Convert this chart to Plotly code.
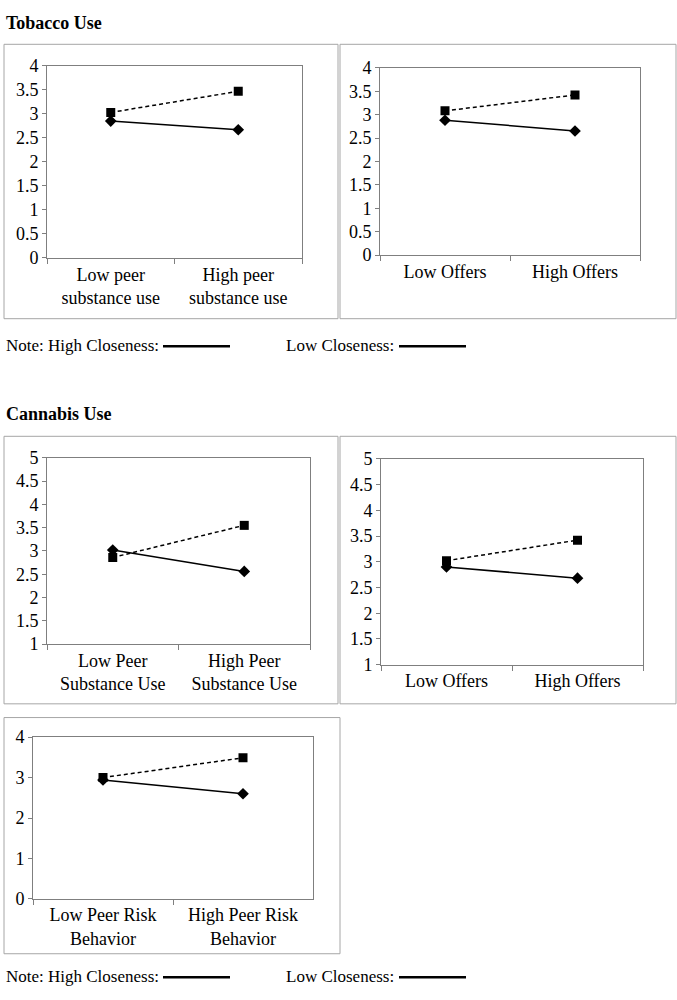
import plotly.graph_objects as go

W, H = 677, 1000
FONT = "Liberation Serif, Times New Roman, serif"

# ---- data ----
tob_peer_cats = ["Low peer<br>substance use", "High peer<br>substance use"]
tob_peer_high = [2.85, 2.67]
tob_peer_low = [3.03, 3.47]

tob_off_cats = ["Low Offers", "High Offers"]
tob_off_high = [2.88, 2.65]
tob_off_low = [3.08, 3.42]

can_peer_cats = ["Low Peer<br>Substance Use", "High Peer<br>Substance Use"]
can_peer_high = [3.02, 2.56]
can_peer_low = [2.86, 3.55]

can_off_cats = ["Low Offers", "High Offers"]
can_off_high = [2.90, 2.68]
can_off_low = [3.02, 3.42]

can_risk_cats = ["Low Peer Risk<br>Behavior", "High Peer Risk<br>Behavior"]
can_risk_high = [2.94, 2.60]
can_risk_low = [3.00, 3.49]

panels = [
    # cats, high, low, plot-area px (x0, x1, y0, y1), y range, dtick
    (tob_peer_cats, tob_peer_high, tob_peer_low, (47, 302, 57, 253), (0, 4), 0.5),
    (tob_off_cats, tob_off_high, tob_off_low, (380, 640, 59, 250), (0, 4), 0.5),
    (can_peer_cats, can_peer_high, can_peer_low, (47, 310, 457, 647), (1, 5), 0.5),
    (can_off_cats, can_off_high, can_off_low, (381, 643, 458, 668), (1, 5), 0.5),
    (can_risk_cats, can_risk_high, can_risk_low, (33, 313, 742, 907), (0, 4), 1),
]

frames = [(4, 338, 35, 315), (340, 676, 35, 315), (4, 338, 435, 708),
          (340, 676, 435, 708), (4, 340, 722, 963)]

def px(x):
    return x / W

def py(y):
    return 1 - y / H

fig = go.Figure()
layout = dict(
    width=W, height=H, margin=dict(l=0, r=0, t=0, b=0),
    paper_bgcolor="white", plot_bgcolor="white", showlegend=False,
    font=dict(family=FONT, size=18, color="black"),
)

AX = "#7f7f7f"
for i, (cats, hi, lo, (x0, x1, y0, y1), yr, dt) in enumerate(panels):
    n = "" if i == 0 else str(i + 1)
    xa, ya = "x" + n, "y" + n
    fig.add_trace(go.Scatter(
        x=cats, y=lo, xaxis=xa, yaxis=ya, mode="lines+markers",
        line=dict(color="black", width=1.5, dash="4px,3px"),
        marker=dict(symbol="square", size=9, color="black")))
    fig.add_trace(go.Scatter(
        x=cats, y=hi, xaxis=xa, yaxis=ya, mode="lines+markers",
        line=dict(color="black", width=1.5),
        marker=dict(symbol="diamond", size=9, color="black")))
    layout["xaxis" + n] = dict(
        domain=[px(x0), px(x1)], anchor=ya, type="category",
        range=[-0.5, 1.5], tickson="boundaries", ticks="outside", ticklen=5,
        tickcolor=AX, showline=True, linecolor=AX, mirror=True, showgrid=False,
        tickfont=dict(family=FONT, size=18, color="black"), fixedrange=True)
    layout["yaxis" + n] = dict(
        domain=[py(y1), py(y0)], anchor=xa, range=list(yr), dtick=dt,
        tick0=0, ticks="outside", ticklen=4, tickcolor=AX, showline=True,
        linecolor=AX, mirror=True, showgrid=False, zeroline=False,
        tickfont=dict(family=FONT, size=18, color="black"), fixedrange=True)

shapes = []
for (x0, x1, y0, y1) in frames:
    shapes.append(dict(type="rect", xref="paper", yref="paper",
                       x0=px(x0), x1=px(x1), y0=py(y1), y1=py(y0),
                       line=dict(color="#a6a6a6", width=1)))

annotations = []
def text(t, x, y, bold=False, size=17):
    annotations.append(dict(
        text=("<b>%s</b>" % t) if bold else t, x=px(x), y=py(y),
        xref="paper", yref="paper", xanchor="left", yanchor="middle",
        showarrow=False, font=dict(family=FONT, size=size, color="black")))

text("Tobacco Use", 4, 13, bold=True, size=18)
text("Cannabis Use", 4, 412, bold=True, size=18)
for ny in (342, 986):
    text("Note: High Closeness:", 4, ny)
    text("Low Closeness:", 284, ny)
    for (a, b) in ((163, 230), (399, 466)):
        shapes.append(dict(type="line", xref="paper", yref="paper",
                           x0=px(a), x1=px(b), y0=py(ny + 1), y1=py(ny + 1),
                           line=dict(color="black", width=2.5)))

layout["shapes"] = shapes
layout["annotations"] = annotations
fig.update_layout(**layout)
fig.write_html(
    "out.html",
    config={"displayModeBar": False},
    post_script="document.body.style.margin='0';document.body.style.padding='0';")
